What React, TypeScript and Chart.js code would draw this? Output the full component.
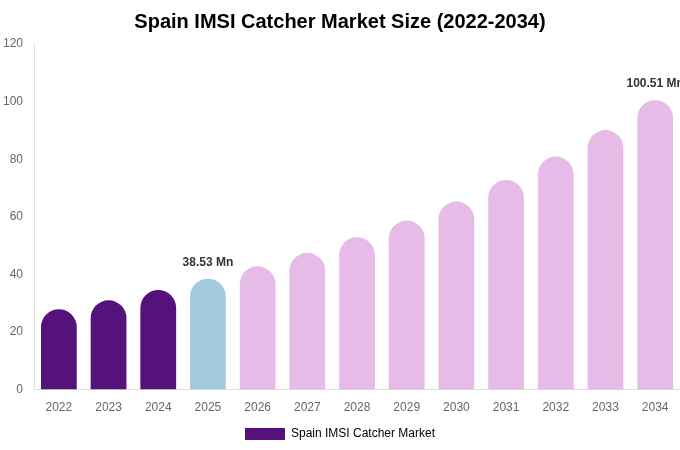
import React, { useEffect, useRef } from "react";
import { Chart, registerables } from "chart.js";

Chart.register(...registerables);

const categories = ["2022", "2023", "2024", "2025", "2026", "2027", "2028", "2029", "2030", "2031", "2032", "2033", "2034"];
const marketValues = [27.9, 31.0, 34.6, 38.53, 42.8, 47.5, 52.9, 58.7, 65.3, 72.8, 80.9, 90.1, 100.51];
const barColors = [
  "#54127A", "#54127A", "#54127A", "#A4CADF",
  "#E6BBE8", "#E6BBE8", "#E6BBE8", "#E6BBE8", "#E6BBE8",
  "#E6BBE8", "#E6BBE8", "#E6BBE8", "#E6BBE8",
];
const labelledIndices = [3, 12];
const seriesName = "Spain IMSI Catcher Market";
const titleText = "Spain IMSI Catcher Market Size (2022-2034)";
const yTicks = { min: 0, max: 120, step: 20 };

const FONT = "'Liberation Sans', Arial, Helvetica, sans-serif";

const valueLabelPlugin = {
  id: "valueLabels",
  afterDatasetsDraw(chart: any) {
    const ctx = chart.ctx;
    const meta = chart.getDatasetMeta(0);
    ctx.save();
    ctx.font = `bold 12px ${FONT}`;
    ctx.fillStyle = "#333333";
    ctx.textAlign = "center";
    ctx.textBaseline = "bottom";
    labelledIndices.forEach((i) => {
      const el = meta.data[i];
      if (!el) return;
      ctx.fillText(`${marketValues[i].toFixed(2)} Mn`, el.x, el.y - 10);
    });
    ctx.restore();
  },
};

export default function App() {
  const canvasRef = useRef<HTMLCanvasElement | null>(null);

  useEffect(() => {
    document.body.style.margin = "0";
    const canvas = canvasRef.current;
    if (!canvas) return;
    const chart = new Chart(canvas, {
      type: "bar",
      data: {
        labels: categories,
        datasets: [
          {
            label: seriesName,
            data: marketValues,
            backgroundColor: barColors,
            borderRadius: 20,
            borderSkipped: "start",
            barPercentage: 0.72,
            categoryPercentage: 1,
          },
        ],
      },
      options: {
        animation: false,
        responsive: false,
        maintainAspectRatio: false,
        layout: { padding: { left: 0, right: 0, top: 0, bottom: 0 } },
        plugins: {
          title: {
            display: true,
            text: titleText,
            color: "#000000",
            font: { family: FONT, size: 20, weight: "bold" },
            padding: { top: 10, bottom: 10 },
          },
          legend: {
            display: true,
            position: "bottom",
            labels: {
              color: "#666666",
              font: { family: FONT, size: 12 },
              boxWidth: 40,
              boxHeight: 12,
              generateLabels: () => [
                {
                  text: seriesName,
                  fillStyle: "#54127A",
                  strokeStyle: "#54127A",
                  lineWidth: 0,
                  hidden: false,
                  datasetIndex: 0,
                },
              ],
            },
          },
          tooltip: { enabled: false },
        },
        scales: {
          x: {
            grid: { display: false, drawTicks: true, tickLength: 8 },
            border: { display: true, color: "#dddddd" },
            ticks: { color: "#666666", font: { family: FONT, size: 12 } },
          },
          y: {
            min: yTicks.min,
            max: yTicks.max,
            grid: { display: false },
            border: { display: true, color: "#dddddd" },
            ticks: {
              stepSize: yTicks.step,
              color: "#666666",
              font: { family: FONT, size: 12 },
            },
          },
        },
      },
      plugins: [valueLabelPlugin],
    });
    return () => chart.destroy();
  }, []);

  return (
    <div style={{ width: 680, height: 450 }}>
      <canvas ref={canvasRef} width={680} height={450} style={{ display: "block" }} />
    </div>
  );
}
